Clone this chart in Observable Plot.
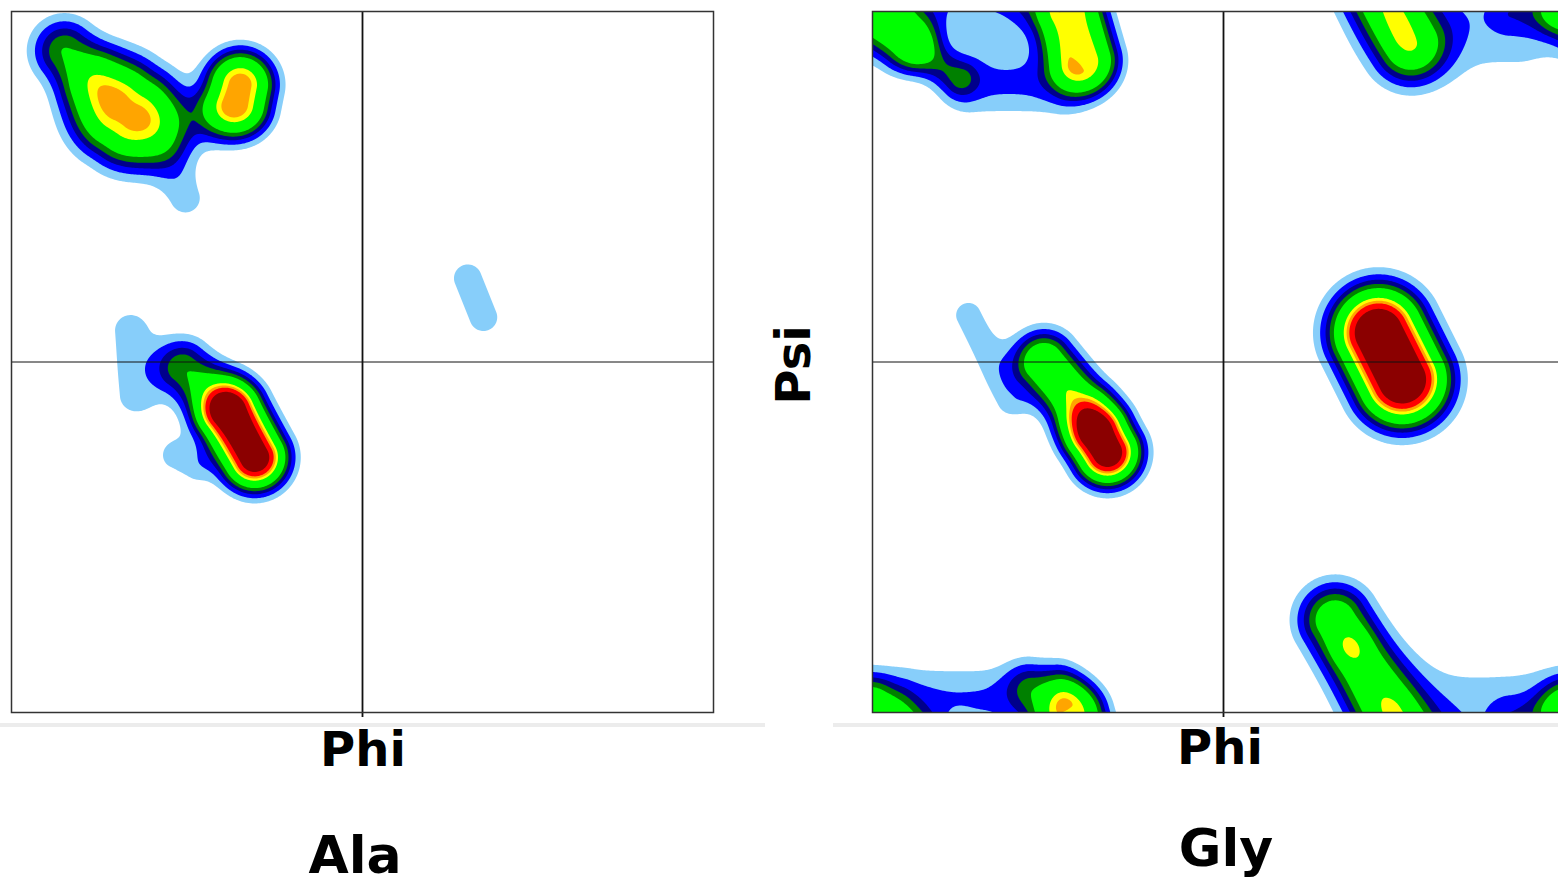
<!DOCTYPE html>
<html>
<head>
<meta charset="utf-8">
<script src="https://cdn.jsdelivr.net/npm/d3@7"></script>
<script src="https://cdn.jsdelivr.net/npm/@observablehq/plot@0.6"></script>
<style>
  html, body { margin: 0; padding: 0; background: #fff; }
  body { width: 1558px; height: 882px; overflow: hidden; position: relative; font-family: "DejaVu Sans", sans-serif; }
  .panel { position: absolute; top: 0; width: 724px; height: 722px; }
  .panel svg { max-width: none !important; }
  .lbl { position: absolute; font-weight: bold; color: #000; white-space: nowrap; line-height: 1; }
  .sep { position: absolute; height: 4px; background: #ececec; }
</style>
</head>
<body>
<div id="left" class="panel" style="left:0px"></div>
<div id="right" class="panel" style="left:861px"></div>
<div class="sep" style="left:0px; top:723px; width:765px"></div>
<div class="sep" style="left:833px; top:723px; width:725px"></div>
<div class="lbl" id="phiL" style="font-size:48px">Phi</div>
<div class="lbl" id="phiR" style="font-size:48px">Phi</div>
<div class="lbl" id="ala" style="font-size:52px">Ala</div>
<div class="lbl" id="gly" style="font-size:52px">Gly</div>
<div class="lbl" id="psi" style="font-size:48px">Psi</div>
<script>
// Density level thresholds and their fill colours (outermost first)
const levels = [0.055, 0.10, 0.15, 0.20, 0.26, 0.44, 0.50, 0.56, 0.68];
const levelColors = ["#87cefa", "#0000ff", "#00008b", "#008000", "#00ff00", "#ffff00", "#ffa500", "#ff0000", "#8b0000"];

// Ala density clusters: centre (phi, psi), half-extent of the ridge, flat core radius, spread, peak weight
const alaPhi    = [-61.5, -84.0, -117.7, -90.8, -121.5, -148.0, -90.0, -63.6, 58.0, -94.6];
const alaPsi    = [-37.7, -10.0,   -0.5, -50.5,  128.0,  155.0, 122.0, 137.4, 33.0,  93.7];
const alaHPhi   = [  6.2,   8.0,    1.3,   5.1,    3.0,    5.0,   8.0,   1.0,  4.0,   3.9];
const alaHPsi   = [-11.3,  -7.0,  -16.7,  -2.5,   -2.0,   -5.0,   2.0,   5.0, -10.0,  -9.7];
const alaCore   = [  0,     0,      0,     0,      4,      0,     0,     3,     0,     0];
const alaSpread = [ 10,    10,     10,     8,     14,     11,    10,   9.5,     9,     9];
const alaWeight = [ 0.9,   0.25,  0.075, 0.075,  0.50,   0.25,  0.08,  0.52,  0.075, 0.075];

// Gly density clusters (periodic in phi and psi)
const glyPhi    = [-62.0, -83.0, -120.0, 85.6, -75.6, -92.0, -107.0, -172.0, -145.0,  76.6,  65.1,  89.0, 125.0, -135.0, -115.0, 157.0];
const glyPsi    = [-42.0, -11.0,    2.2,  3.0, 166.5, -166.0,  143.0,  174.0,  152.0, -165.0, -146.5, 174.0, 176.0, -172.0, 168.0, 179.0];
const glyHPhi   = [  2.5,   9.0,   10.8,  6.0,   3.3,   6.0,   22.0,   10.0,    9.0,   19.3,   0.0,   2.0,  25.0,   25.0,   8.0,  10.0];
const glyHPsi   = [ -4.4, -11.0,  -21.8, -12.0, -11.5,   0.0,    0.0,   -8.0,   -6.0,  -32.5,   0.0,  -8.0,   0.0,    0.0,   0.0,   0.0];
const glyCore   = [  0,     0,      0,     0,     5,     0,      0,      3,      0,      0,      0,     0,     0,      0,     0,     0];
const glySpread = [ 10,    10,      8,    14,     9,     9,     12,      9,      7,     12,      6,     5,    22,     12,    10,     7];
const glyWeight = [ 0.9,   0.42,  0.075, 1.0,   0.45,  0.15,   0.11,   0.32,   0.14,   0.37,   0.10,  0.04,  0.09,   0.10,  0.03,  0.06];

function makeBlobs(phi, psi, hp, hs, core, sp, w) {
  return phi.map((p, i) => ({phi: p, psi: psi[i], hx: hp[i], hy: hs[i], r0: core[i], s: sp[i], w: w[i]}));
}
const wrap = (d) => ((d + 180) % 360 + 360) % 360 - 180;

function field(blobs, periodic) {
  return (x, y) => {
    let v = 0;
    for (const b of blobs) {
      let dx = x - b.phi, dy = y - b.psi;
      if (periodic) { dx = wrap(dx); dy = wrap(dy); }
      const hh = b.hx * b.hx + b.hy * b.hy;
      let t = hh > 0 ? (dx * b.hx + dy * b.hy) / hh : 0;
      t = Math.max(-1, Math.min(1, t));
      const ex = dx - t * b.hx, ey = dy - t * b.hy;
      const d = Math.max(0, Math.hypot(ex, ey) - b.r0);
      v += b.w * Math.exp(-(d * d) / (2 * b.s * b.s));
    }
    return v;
  };
}

const mids = levels.slice(1).map((t, i) => (t + levels[i]) / 2);

function panel(blobs, periodic) {
  return Plot.plot({
    width: 724,
    height: 722,
    marginLeft: 11,
    marginRight: 11,
    marginTop: 11,
    marginBottom: 10,
    x: {domain: [-180, 180], axis: null},
    y: {domain: [-180, 180], axis: null},
    color: {type: "threshold", domain: mids, range: levelColors},
    style: {background: "transparent", overflow: "visible", maxWidth: "none"},
    marks: [
      Plot.contour({
        x1: -180, x2: 180, y1: -180, y2: 180,
        fill: field(blobs, periodic),
        thresholds: levels,
        pixelSize: 1,
        stroke: "none"
      }),
      Plot.ruleY([0], {stroke: "#111", strokeWidth: 1}),
      Plot.ruleX([0], {stroke: "#111", strokeWidth: 1.8, insetBottom: -5}),
      Plot.frame({stroke: "#333", strokeWidth: 1.5})
    ]
  });
}

document.getElementById("left").appendChild(panel(makeBlobs(alaPhi, alaPsi, alaHPhi, alaHPsi, alaCore, alaSpread, alaWeight), false));
document.getElementById("right").appendChild(panel(makeBlobs(glyPhi, glyPsi, glyHPhi, glyHPsi, glyCore, glySpread, glyWeight), true));

// place labels by their centres
function place(id, cx, baseline) {
  const el = document.getElementById(id);
  const r = el.getBoundingClientRect();
  el.style.left = (cx - r.width / 2) + "px";
  el.style.top = (baseline - r.height * 0.93) + "px";
}
place("phiL", 363, 770);
place("phiR", 1220, 768);
place("ala", 355, 877);
place("gly", 1226, 870);
const psi = document.getElementById("psi");
psi.style.transformOrigin = "center center";
const pr = psi.getBoundingClientRect();
psi.style.left = (793 - pr.width / 2) + "px";
psi.style.top = (365 - pr.height / 2) + "px";
psi.style.transform = "rotate(-90deg)";
</script>
</body>
</html>
